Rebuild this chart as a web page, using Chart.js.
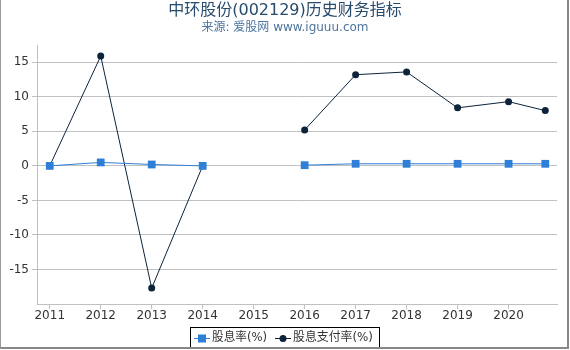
<!DOCTYPE html>
<html>
<head>
<meta charset="utf-8">
<script src="https://cdn.jsdelivr.net/npm/chart.js@4/dist/chart.umd.min.js"></script>
<style>
  html, body { margin: 0; padding: 0; background: #fff; }
  #wrap { position: relative; width: 570px; height: 350px; }
  #frame { position: absolute; left: 0; top: 0; width: 566px; height: 347px;
           border-left: 1px solid #999; border-right: 2px solid #888; border-bottom: 2px solid #888; pointer-events: none; }
</style>
</head>
<body>
<div id="wrap">
  <canvas id="chart" width="570" height="350"></canvas>
  <div id="frame"></div>
</div>
<script>
// 数据（年份，最后一个点为最新报告期）
const years = [2011, 2012, 2013, 2014, 2015, 2016, 2017, 2018, 2019, 2020, 2020.72];
const dividendYield = [0, 0.5, 0.2, 0, null, 0.1, 0.3, 0.3, 0.3, 0.3, 0.3];
const payoutRatio = [0, 15.9, -17.7, 0, null, 5.2, 13.2, 13.6, 8.4, 9.3, 8.0];
const xTicks = [2011, 2012, 2013, 2014, 2015, 2016, 2017, 2018, 2019, 2020];
const yTicks = [-15, -10, -5, 0, 5, 10, 15];

const titleText = '中环股份(002129)历史财务指标';
const subtitleText = '来源: 爱股网 www.iguuu.com';
const seriesNames = ['股息率(%)', '股息支付率(%)'];
const colors = ['#2f7ed8', '#0d233a'];
const font = '"DejaVu Sans", "Noto Sans CJK SC", sans-serif';

const toPoints = (vals) => years.map((x, i) => ({ x: x, y: vals[i] }));

// 标题和图例都画在画布上
const decorPlugin = {
    id: 'decor',
    afterDraw(chart) {
        const ctx = chart.ctx;
        ctx.save();
        ctx.textAlign = 'center';
        ctx.textBaseline = 'middle';
        ctx.fillStyle = '#274b6d';
        ctx.font = '16px ' + font;
        ctx.fillText(titleText, 285, 11);
        ctx.fillStyle = '#4d759e';
        ctx.font = '12px ' + font;
        ctx.fillText(subtitleText, 285, 28);

        // 图例
        const bx = 190, by = 327, bw = 189, bh = 20;
        ctx.strokeStyle = '#000';
        ctx.lineWidth = 1;
        ctx.strokeRect(bx + 0.5, by + 0.5, bw, bh);
        ctx.textAlign = 'left';
        const cy = by + bh / 2 + 1;
        const items = [
            { x: 194, text: 212, w: 55 },
            { x: 275, text: 293, w: 80 }
        ];
        items.forEach((it, i) => {
            ctx.strokeStyle = colors[i];
            ctx.beginPath(); ctx.moveTo(it.x, cy + 0.5); ctx.lineTo(it.x + 16, cy + 0.5); ctx.stroke();
            ctx.fillStyle = colors[i];
            if (i === 0) {
                ctx.fillRect(it.x + 4, cy - 3.5, 8, 8);
            } else {
                ctx.beginPath(); ctx.arc(it.x + 8, cy + 0.5, 3.5, 0, Math.PI * 2); ctx.fill();
            }
            ctx.fillStyle = '#333';
            ctx.font = '12px ' + font;
            ctx.fillText(seriesNames[i], it.text, cy, it.w);
        });
        ctx.restore();
    }
};

new Chart(document.getElementById('chart').getContext('2d'), {
    type: 'line',
    data: {
        datasets: [{
            label: seriesNames[0],
            data: toPoints(dividendYield),
            borderColor: colors[0],
            backgroundColor: colors[0],
            borderWidth: 1,
            pointStyle: 'rect',
            pointRadius: 5.5,
            pointBorderWidth: 0,
            spanGaps: false,
            tension: 0
        }, {
            label: seriesNames[1],
            data: toPoints(payoutRatio),
            borderColor: colors[1],
            backgroundColor: colors[1],
            borderWidth: 1,
            pointStyle: 'circle',
            pointRadius: 3.5,
            pointBorderWidth: 0,
            spanGaps: false,
            tension: 0
        }]
    },
    options: {
        responsive: false,
        animation: false,
        layout: { padding: { top: 45, right: 13, left: 0, bottom: 0 } },
        plugins: {
            legend: { display: false },
            title: { display: false },
            tooltip: { enabled: false }
        },
        scales: {
            x: {
                type: 'linear',
                min: 2010.75,
                max: 2020.95,
                afterBuildTicks: (scale) => { scale.ticks = xTicks.map(v => ({ value: v })); },
                afterFit: (scale) => { scale.height = 46; },
                grid: { drawOnChartArea: false, tickLength: 5, color: '#c0c0c0' },
                border: { color: '#c0c0c0' },
                ticks: {
                    padding: 0,
                    maxRotation: 0,
                    color: '#333',
                    font: { family: font, size: 12 },
                    callback: (v) => String(v)
                }
            },
            y: {
                min: -20,
                max: 17.5,
                afterBuildTicks: (scale) => { scale.ticks = yTicks.map(v => ({ value: v })); },
                afterFit: (scale) => { scale.width = 37; },
                grid: { color: '#c0c0c0', tickLength: 5 },
                border: { color: '#c0c0c0' },
                ticks: {
                    padding: 3,
                    color: '#333',
                    font: { family: font, size: 12 }
                }
            }
        }
    },
    plugins: [decorPlugin]
});
</script>
</body>
</html>
